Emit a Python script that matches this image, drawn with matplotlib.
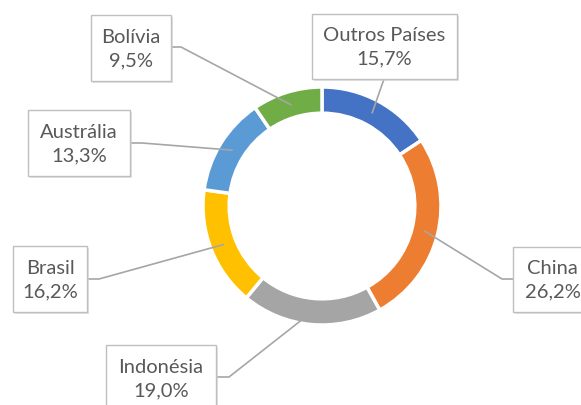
import numpy as np
import matplotlib
matplotlib.use("Agg")
import matplotlib.pyplot as plt
from matplotlib.patches import Rectangle

paises = ["Outros Países", "China", "Indonésia", "Brasil", "Austrália", "Bolívia"]
percentuais = [15.7, 26.2, 19.0, 16.2, 13.3, 9.5]
cores = ["#4472C4", "#ED7D31", "#A5A5A5", "#FFC000", "#5B9BD5", "#70AD47"]

# caixas dos rótulos (x0, y0, x1, y1) em pixels e ponto de saída da linha
caixas = {
    "Outros Países": ((312, 14, 457, 79), [(384, 79)]),
    "China": ((513, 247, 592, 312), [(513, 279), (502, 279)]),
    "Indonésia": ((106, 345, 216, 412), [(216, 377), (229, 377)]),
    "Brasil": ((13, 246, 87, 312), [(87, 279), (99, 279)]),
    "Austrália": ((28, 110, 130, 176), [(130, 143), (142, 143)]),
    "Bolívia": ((91, 15, 171, 81), [(171, 47), (181, 47)]),
}

plt.rcParams['font.family'] = ['Lato', 'DejaVu Sans']

fig = plt.figure(figsize=(5.81, 4.05), dpi=100)
ax = fig.add_axes([0, 0, 1, 1])

cx, cy, raio = 322, 206, 119
ax.pie(percentuais, colors=cores, startangle=270, counterclock=True,
       center=(cx, cy), radius=raio, frame=True,
       wedgeprops=dict(width=raio * 0.22, edgecolor='white', linewidth=2.5))
ax.set_xlim(0, 581)
ax.set_ylim(405, 0)
ax.set_aspect('equal')
ax.axis('off')

fracs = np.array(percentuais) / sum(percentuais)
meio = np.cumsum(fracs) - fracs / 2
for nome, valor, f in zip(paises, percentuais, meio):
    ang = np.deg2rad(270 + 360 * f)
    px = cx + 106 * np.cos(ang)
    py = cy + 106 * np.sin(ang)
    (x0, y0, x1, y1), pontos = caixas[nome]
    xs = [p[0] for p in pontos] + [px]
    ys = [p[1] for p in pontos] + [py]
    ax.plot(xs, ys, color='#A6A6A6', lw=1.2, zorder=3)
    # sombra
    ax.add_patch(Rectangle((x0 + 2, y0 + 2), x1 - x0, y1 - y0,
                           facecolor='#D0D0D0', edgecolor='none', alpha=0.6, zorder=4))
    ax.add_patch(Rectangle((x0, y0), x1 - x0, y1 - y0,
                           facecolor='white', edgecolor='#BFBFBF', lw=1.0, zorder=5))
    rotulo = f"{nome}\n{valor:.1f}%".replace('.', ',')
    ax.text((x0 + x1) / 2, (y0 + y1) / 2 + 1, rotulo, ha='center', va='center',
            fontsize=14.5, color='#595959', linespacing=1.45, zorder=6)

fig.savefig("out.png", dpi=100)
